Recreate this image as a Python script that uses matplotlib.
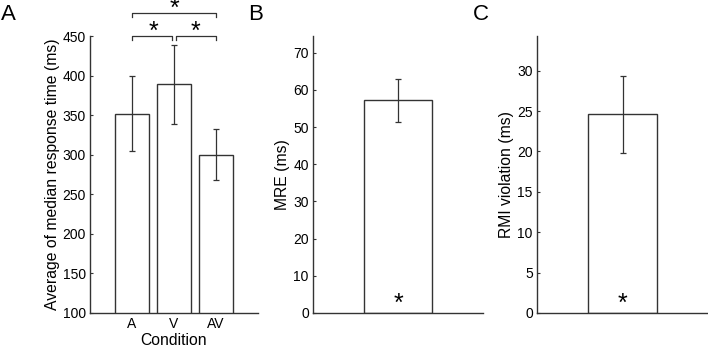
import matplotlib
matplotlib.use('Agg')
import matplotlib.pyplot as plt

plt.rcParams['font.family'] = ['Liberation Sans', 'DejaVu Sans']

# panel A
conditions = ['A', 'V', 'AV']
rt_mean = [352, 389, 300]
rt_low = [305, 339, 268]
rt_high = [399, 438, 333]

# panel B
mre_mean = 57.2
mre_low = 51.3
mre_high = 63.0

# panel C
rmi_mean = 24.6
rmi_low = 19.8
rmi_high = 29.3

LC = '#333333'
fig = plt.figure(figsize=(7.08, 3.53), dpi=100)

def style(ax):
    for s in ['top', 'right']:
        ax.spines[s].set_visible(False)
    for s in ['left', 'bottom']:
        ax.spines[s].set_color(LC)
        ax.spines[s].set_linewidth(1.0)
    ax.tick_params(direction='in', length=2.5, width=0.8, color=LC, labelsize=10, pad=3)

def bar_err(ax, x, m, lo, hi):
    ax.bar(x, m, width=0.8, color='white', edgecolor=LC, linewidth=1.0, zorder=2)
    ax.errorbar(x, m, yerr=[[m - lo], [hi - m]], fmt='none', ecolor=LC, elinewidth=0.9,
                capsize=2.5, capthick=0.9, zorder=3)

# ---- A
axA = fig.add_axes([90/708, 40/353, 168/708, 277/353])
style(axA)
xs = [1, 2, 3]
for x, m, lo, hi in zip(xs, rt_mean, rt_low, rt_high):
    bar_err(axA, x, m, lo, hi)
axA.set_xlim(0, 4)
axA.set_ylim(100, 450)
axA.set_xticks(xs)
axA.set_xticklabels(conditions)
axA.set_yticks(range(100, 451, 50))
axA.set_xlabel('Condition', fontsize=11.3, labelpad=1)
axA.set_ylabel('Average of median response time (ms)', fontsize=11.3, labelpad=2)

def bracket(ax, x1, x2, y, leg):
    ax.plot([x1, x1, x2, x2], [y - leg, y, y, y - leg], color=LC, lw=0.9, clip_on=False)

bracket(axA, 1, 1.95, 450, 5)
bracket(axA, 2.05, 3, 450, 5)
bracket(axA, 1, 3, 479, 5)
axA.text(1.5, 447, '*', ha='center', va='baseline', fontsize=18, clip_on=False)
axA.text(2.5, 447, '*', ha='center', va='baseline', fontsize=18, clip_on=False)
axA.text(2.0, 476, '*', ha='center', va='baseline', fontsize=18, clip_on=False)

# ---- B
axB = fig.add_axes([313/708, 40/353, 170/708, 277/353])
style(axB)
bar_err(axB, 1, mre_mean, mre_low, mre_high)
axB.set_xlim(0, 2)
axB.set_ylim(0, 74.5)
axB.set_xticks([])
axB.set_yticks(range(0, 71, 10))
axB.set_ylabel('MRE (ms)', fontsize=11.3, labelpad=2)
axB.text(1, 0.6, '*', ha='center', va='baseline', fontsize=18)

# ---- C
axC = fig.add_axes([537/708, 40/353, 171/708, 277/353])
style(axC)
bar_err(axC, 1, rmi_mean, rmi_low, rmi_high)
axC.set_xlim(0, 2)
axC.set_ylim(0, 34.3)
axC.set_xticks([])
axC.set_yticks(range(0, 31, 5))
axC.set_ylabel('RMI violation (ms)', fontsize=11.3, labelpad=2)
axC.text(1, 0.28, '*', ha='center', va='baseline', fontsize=18)

for lab, xp in [('A', 1), ('B', 248), ('C', 473)]:
    fig.text(xp/708, 1 - 4/353, lab, ha='left', va='top', fontsize=16)

fig.savefig('out.png', dpi=100)
